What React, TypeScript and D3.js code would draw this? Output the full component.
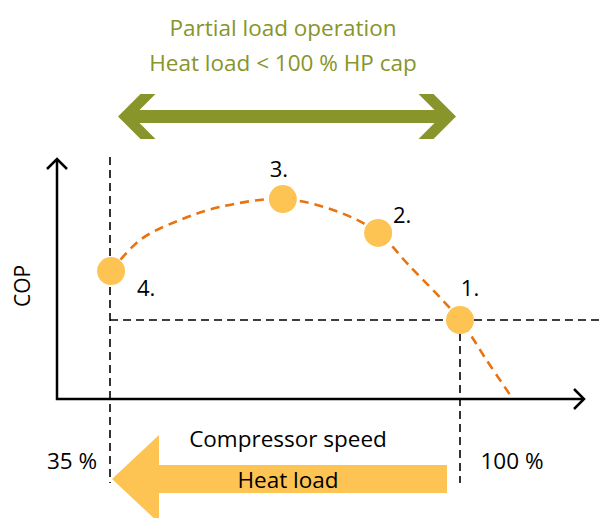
import React from "react";
import * as d3 from "d3";

// Compressor speed (%) and COP (relative units)
const markerLabels = ["1.", "2.", "3.", "4."];
const markerSpeed = [100, 84.8, 67.1, 35.2];
const markerCop = [3.29, 6.92, 8.33, 5.33];

const curveSpeed = [35.2, 40.6, 48.0, 55.4, 67.1, 77.4, 84.8, 90.4, 100, 105, 109.3];
const curveCop = [5.33, 6.63, 7.46, 8.0, 8.33, 7.8, 6.92, 5.6, 3.29, 1.6, 0.17];

const speedTicks = [35, 100];
const speedTickLabels = ["35 %", "100 %"];

const W = 600;
const H = 518;
const FONT = "'Open Sans', 'Noto Sans', sans-serif";
const GREEN = "#87952a";
const YELLOW = "#fdc453";
const ORANGE = "#e8730f";
const FS = 22.5;

const labelOffsets: Record<string, [number, number]> = {
  "1.": [10, -24],
  "2.": [24, -10],
  "3.": [-4, -22],
  "4.": [35, 25],
};

export default function App() {
  const x = d3.scaleLinear().domain([35, 100]).range([110, 460]);
  const y = d3.scaleLinear().domain([0, 10]).range([399, 159]);
  const axisX0 = 57;
  const axisXEnd = 584;
  const axisY0 = y(0);
  const axisYTop = y(10);

  const curvePts: [number, number][] = curveSpeed.map((s, i) => [x(s), y(curveCop[i])]);
  const line = d3.line().curve(d3.curveCatmullRom.alpha(0.5));
  const curvePath = line(curvePts) || "";

  const x35 = x(speedTicks[0]);
  const x100 = x(speedTicks[1]);
  const yRef = y(markerCop[0]);

  // green double arrow
  const gL = 118, gR = 456, gc = 116.5, gs = 6.5, gh = 22.5, ga = 15;
  const greenArrow = [
    [gL, gc],
    [gL + gh, gc - gh],
    [gL + gh + ga, gc - gh],
    [gL + gh + ga - (gh - gs), gc - gs],
    [gR - gh - ga + (gh - gs), gc - gs],
    [gR - gh - ga, gc - gh],
    [gR - gh, gc - gh],
    [gR, gc],
    [gR - gh, gc + gh],
    [gR - gh - ga, gc + gh],
    [gR - gh - ga + (gh - gs), gc + gs],
    [gL + gh + ga - (gh - gs), gc + gs],
    [gL + gh + ga, gc + gh],
    [gL + gh, gc + gh],
  ].map((p) => p.join(",")).join(" ");

  // heat load arrow (pointing left)
  const hTip = x35 + 2, hcy = 479, hHead = 47, hHalf = 44, sHalf = 14, hEnd = 447;
  const heatArrow = [
    [hTip, hcy],
    [hTip + hHead, hcy - hHalf],
    [hTip + hHead, hcy - sHalf],
    [hEnd, hcy - sHalf],
    [hEnd, hcy + sHalf],
    [hTip + hHead, hcy + sHalf],
    [hTip + hHead, hcy + hHalf],
  ].map((p) => p.join(",")).join(" ");

  return (
    <svg width={W} height={H} style={{ position: "absolute", left: 0, top: 0 }} fontFamily={FONT}>
      <rect width={W} height={H} fill="#fff" />
      {/* title */}
      <text x={283} y={36} textAnchor="middle" fill={GREEN} fontSize={FS}>Partial load operation</text>
      <text x={283} y={71} textAnchor="middle" fill={GREEN} fontSize={FS}>Heat load &lt; 100 % HP cap</text>
      <polygon points={greenArrow} fill={GREEN} />

      {/* reference dashed lines */}
      <line x1={x35} x2={x35} y1={157} y2={483} stroke="#000" strokeWidth={1.6} strokeDasharray="8,5" />
      <line x1={x100} x2={x100} y1={yRef} y2={483} stroke="#000" strokeWidth={1.6} strokeDasharray="8,5" />
      <line x1={x35} x2={W} y1={yRef} y2={yRef} stroke="#000" strokeWidth={1.6} strokeDasharray="8,5" />

      {/* axes */}
      <path d={`M${axisX0},${axisYTop} V${axisY0} H${axisXEnd}`} fill="none" stroke="#000" strokeWidth={2.5} />
      <path d={`M${axisX0 - 10},${axisYTop + 10} L${axisX0},${axisYTop} L${axisX0 + 10},${axisYTop + 10}`} fill="none" stroke="#000" strokeWidth={2.5} />
      <path d={`M${axisXEnd - 10},${axisY0 - 10} L${axisXEnd},${axisY0} L${axisXEnd - 10},${axisY0 + 10}`} fill="none" stroke="#000" strokeWidth={2.5} />
      <text transform={`translate(30,286) rotate(-90)`} textAnchor="middle" fontSize={21} fill="#000">COP</text>

      {/* curve */}
      <path d={curvePath} fill="none" stroke={ORANGE} strokeWidth={2.6} strokeDasharray="9,6" />

      {/* markers */}
      {markerSpeed.map((s, i) => (
        <g key={markerLabels[i]}>
          <circle cx={x(s)} cy={y(markerCop[i])} r={14} fill={YELLOW} />
          <text
            x={x(s) + labelOffsets[markerLabels[i]][0]}
            y={y(markerCop[i]) + labelOffsets[markerLabels[i]][1]}
            textAnchor="middle"
            fontSize={22}
            fill="#000"
          >
            {markerLabels[i]}
          </text>
        </g>
      ))}

      {/* bottom */}
      <text x={288} y={447} textAnchor="middle" fontSize={FS} fill="#000">Compressor speed</text>
      <text x={72} y={469} textAnchor="middle" fontSize={FS} fill="#000">{speedTickLabels[0]}</text>
      <text x={512} y={469} textAnchor="middle" fontSize={FS} fill="#000">{speedTickLabels[1]}</text>
      <polygon points={heatArrow} fill={YELLOW} />
      <text x={288} y={488} textAnchor="middle" fontSize={FS} fill="#000">Heat load</text>
    </svg>
  );
}
